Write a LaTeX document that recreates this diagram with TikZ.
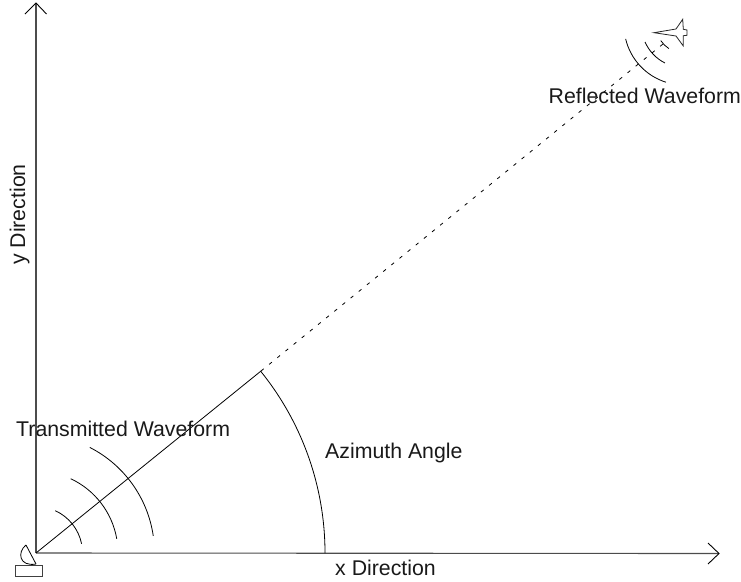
\documentclass[tikz,border=0pt]{standalone}
\usepackage{fontspec}
\setmainfont{Liberation Sans}
\tikzset{
  axis/.style={line width=1.1pt,draw=black!70},
  tip/.style={line width=0.9pt,draw=black},
  thin line/.style={line width=0.8pt,draw=black},
  wave/.style={line width=0.8pt,draw=black},
  lbl/.style={font=\fontsize{21.3pt}{24pt}\selectfont,inner sep=0pt,text=black!90,anchor=base west},
}
\begin{document}
\begin{tikzpicture}[x=1pt,y=-1pt]
\useasboundingbox (0,0) rectangle (741,581);
\coordinate (O) at (36,553);
\coordinate (R) at (684,25);
\coordinate (Ytop) at (36,3);
\coordinate (Xend) at (719,553.5);
\coordinate (Hit) at (261,371);
\coordinate (Plane) at (663,44);
\coordinate (Az) at (325,553);
% axes
\draw[axis] (O) -- (Ytop);
\draw[axis] (O) -- (Xend);
\draw[tip] (25,14) -- (Ytop) -- (46.5,14);
\draw[tip] (708,543) -- (Xend) -- (708,564);
% beam
\draw[thin line] (O) -- (Hit);
\draw[thin line,dash pattern=on 3.5pt off 7pt] (Hit) -- (Plane);
% azimuth arc
\draw[thin line] (Az) arc[start angle=0,end angle=-38.97,radius=289];
% transmitted waves
\draw[wave] (O) ++(-65.5:46.5) arc[start angle=-65.5,end angle=-11.5,radius=46.5];
\draw[wave] (O) ++(-65:82) arc[start angle=-65,end angle=-10,radius=82];
\draw[wave] (O) ++(-63:118.5) arc[start angle=-63,end angle=-8.3,radius=118.5];
% reflected waves
\draw[wave] (R) ++(166.6:60) arc[start angle=166.6,end angle=107.5,radius=60];
\draw[wave] (R) ++(156.4:42.5) arc[start angle=156.4,end angle=116.6,radius=42.5];
\draw[wave] (R) ++(146:28) arc[start angle=146,end angle=122.8,radius=28];
% radar dish and base
\draw[thin line] (26,545) -- (36,564);
\draw[thin line] (26,545) .. controls (17,552) and (19,567) .. (36,564);
\draw[line width=1pt,draw=black!75] (15,565) rectangle (42,576);
% plane
\draw[line width=0.8pt,draw=black!85,line join=miter] (654,32.7) -- (676,29) -- (682.7,19.3) -- (683.3,29.3) -- (687,30) -- (687,35.3) -- (683.3,35.7) -- (683.3,46) -- (676,36) -- cycle;
% labels
\node[lbl] (tx) at (16,436) {Transmitted Waveform};
\node[lbl] (rx) at (548.5,103) {Reflected Waveform};
\node[lbl] (az) at (325,458) {Azimuth Angle};
\node[lbl] (xd) at (335,575) {x Direction};
\node[lbl,rotate=90] (yd) at (25,265) {y Direction};
\end{tikzpicture}
\end{document}
